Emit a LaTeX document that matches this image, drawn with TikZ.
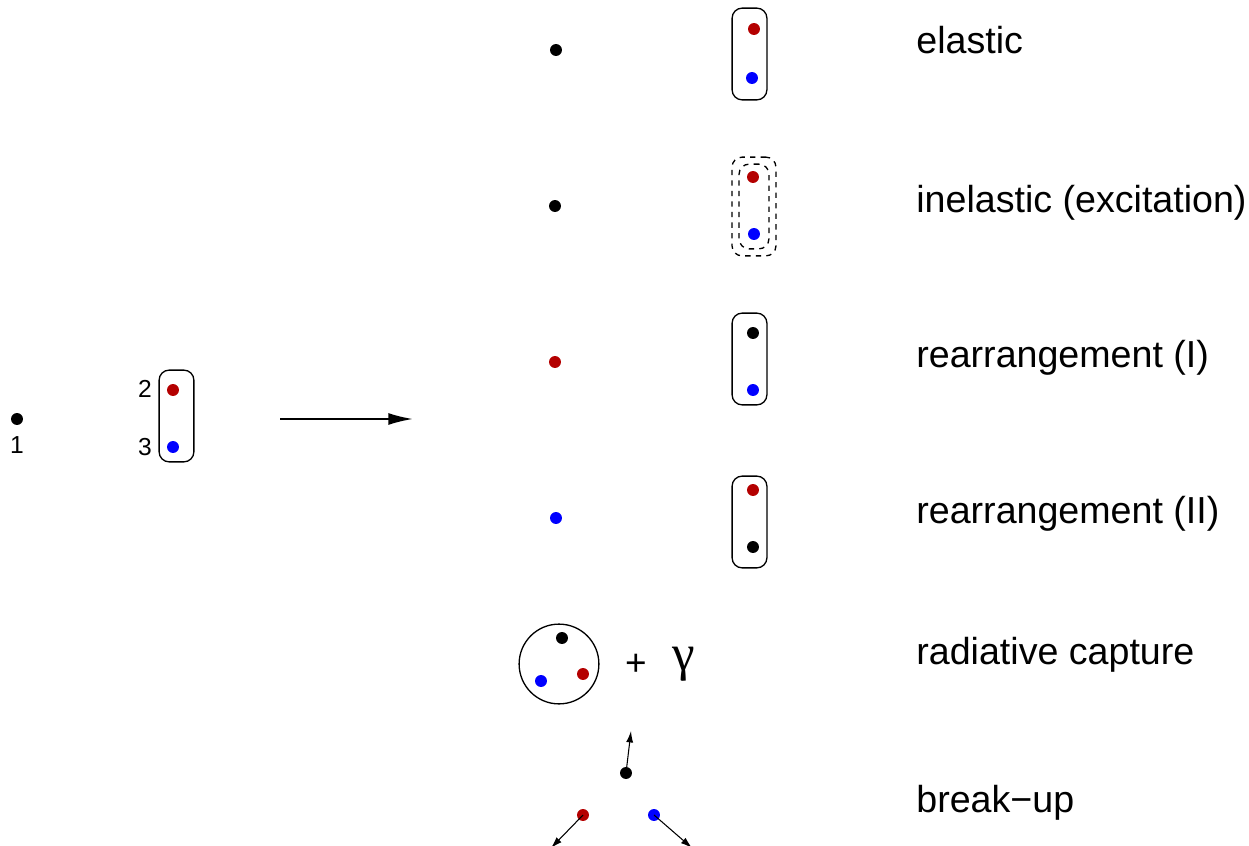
\documentclass[tikz,border=0pt]{standalone}
\usepackage{fontspec}
\setmainfont{Liberation Sans}
\newfontfamily\greekfont{Liberation Serif}
\usetikzlibrary{arrows.meta}
\definecolor{ColRed}{RGB}{180,0,0}
\definecolor{ColBlue}{RGB}{0,0,255}
\tikzstyle{Dot}=[circle,inner sep=0pt,minimum size=6.8pt]
\tikzstyle{DotK}=[Dot,fill=black]
\tikzstyle{DotR}=[Dot,fill=ColRed]
\tikzstyle{DotB}=[Dot,fill=ColBlue]
\tikzstyle{Pair}=[draw,rounded corners=5.7pt,line width=0.75pt,minimum width=19.8pt,
minimum height=52.2pt,inner sep=0pt]
\tikzstyle{Excited}=[draw,dashed,rounded corners=5.7pt,line width=0.75pt,inner sep=0pt]
\tikzstyle{Bound}=[draw,circle,line width=0.75pt,minimum size=45.4pt,inner sep=0pt]
\tikzstyle{Num}=[inner sep=0pt,font=\fontsize{14}{16}\selectfont]
\tikzstyle{Label}=[anchor=west,inner sep=0pt,font=\fontsize{21.4}{25}\selectfont]
\tikzstyle{Reaction}=[line width=1.1pt,-{Latex[length=14pt,width=6.8pt]}]
\tikzstyle{Kick}=[line width=0.6pt,-{Latex[length=6.5pt,width=4pt]}]

\begin{document}
\begin{tikzpicture}[x=0.2mm,y=-0.2mm]
        \useasboundingbox (0,0) rectangle (1249,846);
        \clip (0,0) rectangle (1249,846);
        % initial state: 1 + (23)
        \node[DotK](i1)at(17,419){};
        \node[Num](n1)at(17,445){1};
        \node[Pair](box0)at(176.5,416){};
        \node[DotR](i2)at(173,390){};
        \node[DotB](i3)at(173,447){};
        \node[Num](n2)at(145,389){2};
        \node[Num](n3)at(145,447){3};
        \coordinate(r0)at(280,419);
        \coordinate(r1)at(413,419);
        \draw[Reaction](r0)--(r1);
        % elastic
        \node[DotK](e1)at(556,50){};
        \node[Pair](box1)at(749.5,54){};
        \node[DotR](e2)at(754,29){};
        \node[DotB](e3)at(752,78){};
        \node[Label](t1)at(916,40){elastic};
        % inelastic
        \node[DotK](x1)at(555,206){};
        \node[Excited,minimum width=25pt,minimum height=56.2pt](box2o)at(754,206.5){};
        \node[Excited,minimum width=17pt,minimum height=48.2pt](box2i)at(754,206.5){};
        \node[DotR](x2)at(753,177){};
        \node[DotB](x3)at(754,234){};
        \node[Label](t2)at(916,203){inelastic (excitation)};
        % rearrangement I
        \node[DotR](a1)at(555,362){};
        \node[Pair](box3)at(749.5,359){};
        \node[DotK](a2)at(753,333){};
        \node[DotB](a3)at(753,390){};
        \node[Label](t3)at(916,358){rearrangement (I)};
        % rearrangement II
        \node[DotB](b1)at(556,518){};
        \node[Pair](box4)at(749.5,522){};
        \node[DotR](b2)at(753,490){};
        \node[DotK](b3)at(753,547){};
        \node[Label](t4)at(916,514){rearrangement (II)};
        % radiative capture
        \node[Bound](cap)at(559,664){};
        \node[DotK](c1)at(562,638){};
        \node[DotB](c2)at(541,681){};
        \node[DotR](c3)at(583,674){};
        \node[inner sep=0pt,font=\fontsize{21}{24}\selectfont](plus)at(636,665){+};
        \node[inner sep=0pt,font=\fontsize{29}{32}\greekfont](gam)at(684,664){γ};
        \node[Label](t5)at(916,655){radiative capture};
        % break-up
        \node[DotK](u1)at(626,773){};
        \node[DotR](u2)at(583,815){};
        \node[DotB](u3)at(654,815){};
        \coordinate(k1)at(631,731);
        \coordinate(k2)at(551,848);
        \coordinate(k3)at(692,848);
        \draw[Kick](u1.center)--(k1);
        \draw[Kick](u2.center)--(k2);
        \draw[Kick](u3.center)--(k3);
        \node[Label](t6)at(916,803){break−up};
    \end{tikzpicture}
\end{document}
